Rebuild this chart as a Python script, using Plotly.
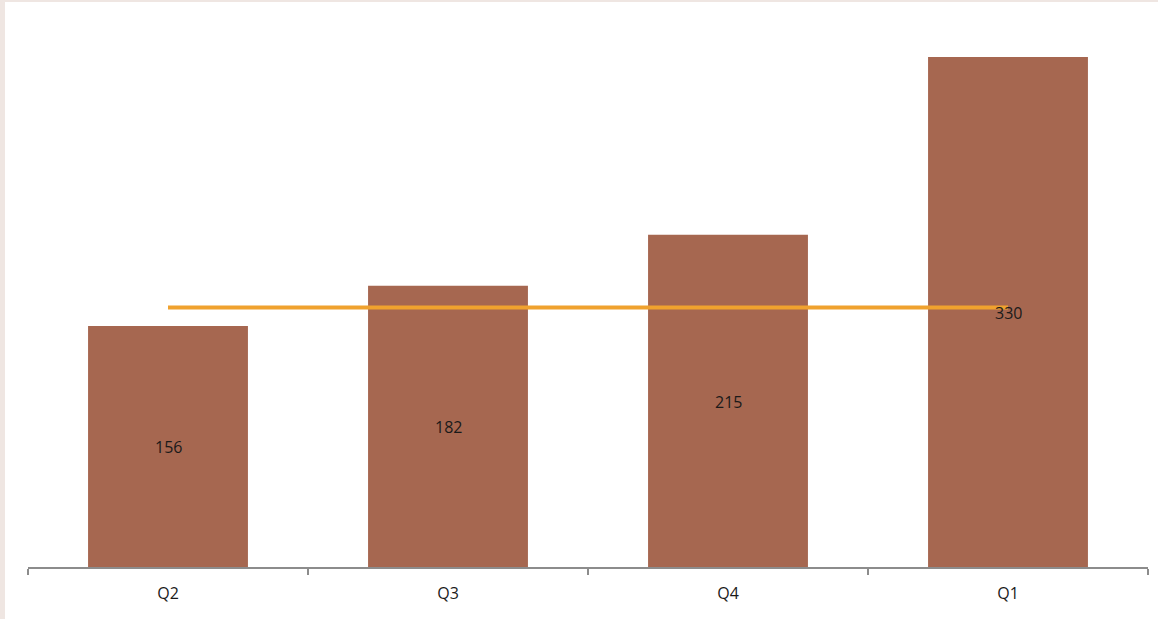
import plotly.graph_objects as go

quarters = ["Q2", "Q3", "Q4", "Q1"]
values = [156, 182, 215, 330]
target = [168, 168, 168, 168]

BAR_COLOR = "#a66750"
LINE_COLOR = "#f0a22e"
FONT = "Open Sans, Liberation Sans, sans-serif"

W, H = 1158, 619
ML, MR, MT, MB = 28, 10, 24, 52
plot_w = W - ML - MR
plot_h = H - MT - MB

fig = go.Figure()

fig.add_trace(go.Bar(
    x=quarters, y=values,
    marker=dict(color=BAR_COLOR, line=dict(width=0)),
    width=0.571,
    hoverinfo="x+y",
))

fig.add_trace(go.Scatter(
    x=quarters, y=target, mode="lines",
    line=dict(color=LINE_COLOR, width=4),
    hoverinfo="skip",
))

# value labels centred inside each bar, drawn above the line
for q, v in zip(quarters, values):
    fig.add_annotation(
        x=q, y=v / 2, text=str(v), showarrow=False, yshift=-1,
        font=dict(family=FONT, size=16, color="#1a1a1a"),
    )

# thin tinted border on the left and top edges
border = "#efe6e2"
fig.add_shape(type="rect", xref="paper", yref="paper",
              x0=(0 - ML) / plot_w, x1=(5 - ML) / plot_w,
              y0=-MB / plot_h, y1=(H - MB) / plot_h,
              fillcolor=border, line=dict(width=0), layer="above")
fig.add_shape(type="rect", xref="paper", yref="paper",
              x0=(0 - ML) / plot_w, x1=(W - ML) / plot_w,
              y0=(H - MB - 2) / plot_h, y1=(H - MB) / plot_h,
              fillcolor=border, line=dict(width=0), layer="above")

fig.update_layout(
    width=W, height=H,
    margin=dict(l=ML, r=MR, t=MT, b=MB),
    paper_bgcolor="white", plot_bgcolor="white",
    showlegend=False,
    font=dict(family=FONT, size=16, color="#1a1a1a"),
    xaxis=dict(
        type="category", tickson="boundaries",
        ticks="outside", ticklen=6, tickwidth=1.5, tickcolor="#8c8c8c",
        showline=True, linecolor="#8c8c8c", linewidth=1.5,
        showgrid=False, tickfont=dict(size=16, family=FONT),
        ticklabelstandoff=11,
        range=[-0.5, 3.5],
    ),
    yaxis=dict(
        range=[0, 351.4], visible=False, showgrid=False, zeroline=False,
    ),
)

fig.write_html("out.html")
